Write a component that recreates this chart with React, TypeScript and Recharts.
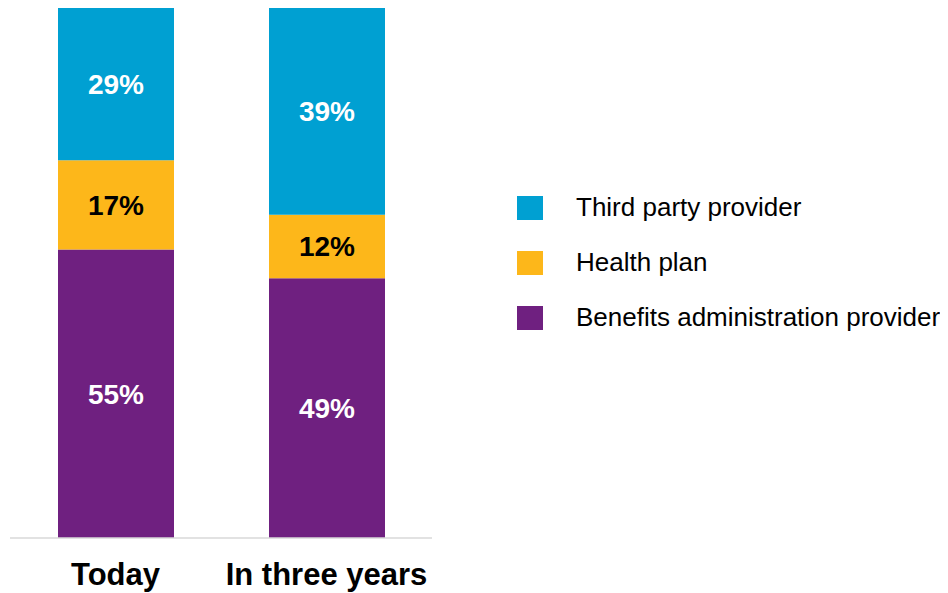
import { BarChart, Bar, XAxis, YAxis, LabelList } from 'recharts';

const categories = ['Today', 'In three years'];
const benefitsAdmin = [55, 49];
const healthPlan = [17, 12];
const thirdParty = [29, 39];

const SERIES = [
    { key: 'benefits', name: 'Benefits administration provider', color: '#6F2080', label: '#FFFFFF' },
    { key: 'health', name: 'Health plan', color: '#FDB71A', label: '#000000' },
    { key: 'third', name: 'Third party provider', color: '#00A0D2', label: '#FFFFFF' },
];

const FONT = 'Arial, "Liberation Sans", sans-serif';

const data = categories.map((name, i) => ({
    name,
    benefits: benefitsAdmin[i],
    health: healthPlan[i],
    third: thirdParty[i],
}));

export default function App() {
    // legend lists the top segment first
    const legendItems = [...SERIES].reverse();

    return (
        <div style={{ position: 'relative', width: 940, height: 585, fontFamily: FONT }}>
            <BarChart
                width={940}
                height={585}
                data={data}
                stackOffset="expand"
                margin={{ top: 0, right: 516, bottom: 5, left: 2 }}
            >
                <XAxis
                    dataKey="name"
                    height={50}
                    tickLine={false}
                    tickSize={0}
                    tickMargin={25}
                    axisLine={{ stroke: '#D9D9D9', strokeWidth: 1.5 }}
                    tick={{ fill: '#000000', fontSize: 31, fontWeight: 700, fontFamily: FONT }}
                />
                <YAxis hide domain={[0, 1]} />
                {SERIES.map(s => (
                    <Bar
                        key={s.key}
                        dataKey={s.key}
                        stackId="a"
                        fill={s.color}
                        barSize={116}
                        isAnimationActive={false}
                    >
                        <LabelList
                            dataKey={s.key}
                            position="center"
                            formatter={(v: any) => `${v}%`}
                            style={{ fill: s.label, fontSize: 28, fontWeight: 700, fontFamily: FONT }}
                        />
                    </Bar>
                ))}
            </BarChart>
            <div style={{ position: 'absolute', left: 509, top: 172 }}>
                {legendItems.map(s => (
                    <div key={s.key} style={{ display: 'flex', alignItems: 'center', height: 55 }}>
                        <span style={{ display: 'inline-block', width: 26, height: 24, background: s.color }} />
                        <span style={{ marginLeft: 33, fontSize: 26, color: '#000000', whiteSpace: 'nowrap' }}>{s.name}</span>
                    </div>
                ))}
            </div>
        </div>
    );
}
